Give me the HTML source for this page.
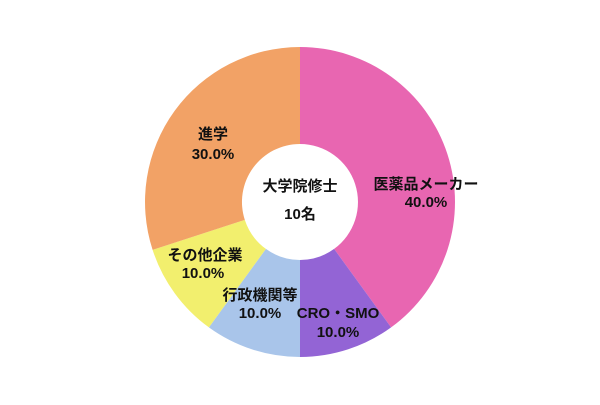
<!DOCTYPE html>
<html><head><meta charset="utf-8"><style>html,body{margin:0;padding:0;background:#fff}</style></head>
<body>
<svg width="600" height="400" xmlns="http://www.w3.org/2000/svg" font-family="Liberation Sans, Noto Sans CJK JP, sans-serif" font-weight="bold" font-size="15" text-anchor="middle" fill="#111">
<path d="M300,47 A155,155 0 0 1 391.1,327.4 L334.1,248.9 A58,58 0 0 0 300,144 Z" fill="#E866B1"/>
<path d="M391.1,327.4 A155,155 0 0 1 300,357 L300,260 A58,58 0 0 0 334.1,248.9 Z" fill="#9364D5"/>
<path d="M300,357 A155,155 0 0 1 208.9,327.4 L265.9,248.9 A58,58 0 0 0 300,260 Z" fill="#A9C5EA"/>
<path d="M208.9,327.4 A155,155 0 0 1 152.6,249.9 L244.8,219.9 A58,58 0 0 0 265.9,248.9 Z" fill="#F2EF6E"/>
<path d="M152.6,249.9 A155,155 0 0 1 300,47 L300,144 A58,58 0 0 0 244.8,219.9 Z" fill="#F2A266"/>
<g fill="#111">
<text x="426" y="189">医薬品メーカー</text><text x="426" y="207">40.0%</text>
<text x="213" y="139">進学</text><text x="213" y="159">30.0%</text>
<text x="205" y="260">その他企業</text><text x="203" y="278">10.0%</text>
<text x="260" y="300">行政機関等</text><text x="260" y="318">10.0%</text>
<text x="338" y="318">CRO・SMO</text><text x="338" y="337">10.0%</text>
<text x="300" y="191">大学院修士</text><text x="300" y="219">10名</text>
</g>
</svg>
</body></html>
